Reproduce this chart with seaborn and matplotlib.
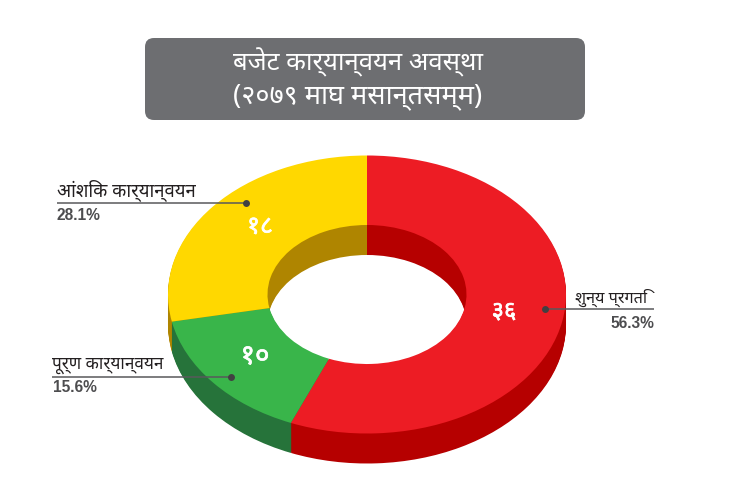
import matplotlib
matplotlib.use('Agg')
import matplotlib.pyplot as plt
import matplotlib.patheffects as pe
from matplotlib.patches import FancyBboxPatch
import seaborn as sns

title_lines = ["बजेट कार्यान्वयन अवस्था", "(२०७९ माघ मसान्तसम्म)"]
categories = ["शुन्य प्रगति", "पूर्ण कार्यान्वयन", "आंशिक कार्यान्वयन"]
counts = [36, 10, 18]
count_labels = ["३६", "१०", "१८"]
pct_labels = ["56.3%", "15.6%", "28.1%"]
top_colors = ["#ED1C24", "#39B54A", "#FFD800"]
side_colors = ["#B60000", "#26733A", "#AF8500"]

sns.set_theme(style="white")
W, H = 737, 482
DEV = "Noto Sans"

fig = plt.figure(figsize=(W / 100, H / 100), dpi=100, facecolor="white")

# donut: 1 data unit = rx pixels horizontally, ry pixels vertically
cx, cy, rx, ry, depth = 367, 294.5, 199, 139, 30
lim = 1.4
ax = fig.add_axes([(cx - lim * rx) / W, 1 - (cy + lim * ry) / H,
                   2 * lim * rx / W, 2 * lim * ry / H])
wedge = dict(width=0.5, edgecolor="none", linewidth=0)
for px in range(depth, 0, -1):
    ax.pie(counts, colors=sns.color_palette(side_colors), startangle=90, counterclock=False,
           radius=1, center=(0, -px / ry), wedgeprops=wedge)
ax.pie(counts, colors=sns.color_palette(top_colors), startangle=90, counterclock=False,
       radius=1, center=(0, 0), wedgeprops=wedge)
ax.set_aspect("auto")
ax.set_xlim(-lim, lim)
ax.set_ylim(-lim, lim)
ax.patch.set_alpha(0)

# overlay in pixel coordinates
ov = fig.add_axes([0, 0, 1, 1], zorder=5)
ov.set_xlim(0, W)
ov.set_ylim(H, 0)
ov.axis("off")

ov.add_patch(FancyBboxPatch((153, 46), 424, 66, boxstyle="round,pad=8,rounding_size=9",
                            facecolor="#6D6E71", edgecolor="none"))
ov.text(358, 62, title_lines[0], color="white", family=DEV, fontsize=18.5, ha="center", va="center")
ov.text(358, 96, title_lines[1], color="white", family=DEV, fontsize=19.5, ha="center", va="center")

# index order matches categories: red, green, yellow
label_spec = [
    dict(line=(545, 654), y=309.3, dot=545, tx=575, ha="left", px=654, pha="right", ty=298, py=323, fs=11.7),
    dict(line=(52, 231), y=376.7, dot=231, tx=52, ha="left", px=53, pha="left", ty=365, py=388, fs=12.4),
    dict(line=(57, 246), y=203.4, dot=246, tx=57, ha="left", px=57, pha="left", ty=190, py=216, fs=13.3),
]
for cat, pct, s in zip(categories, pct_labels, label_spec):
    ov.plot(s["line"], [s["y"], s["y"]], color="#58595B", lw=1.1, solid_capstyle="butt")
    ov.plot([s["dot"]], [s["y"]], "o", color="#414042", ms=5, mew=0)
    ov.text(s["tx"], s["ty"], cat, color="#231F20", family=DEV, fontsize=s["fs"], ha=s["ha"], va="center")
    ov.text(s["px"], s["py"], pct, color="#4D4D4F", family="Liberation Sans", fontweight="bold",
            fontsize=11.2, ha=s["pha"], va="center")

count_pos = [(504, 312), (255, 357), (260, 227)]
count_sizes = [17, 20, 18]
for lab, (x, y), fs in zip(count_labels, count_pos, count_sizes):
    ov.text(x, y, lab, color="white", family=DEV, fontsize=fs, ha="center", va="center",
            path_effects=[pe.withStroke(linewidth=0.5, foreground="white")])

fig.savefig("out.png", dpi=100, facecolor="white")
